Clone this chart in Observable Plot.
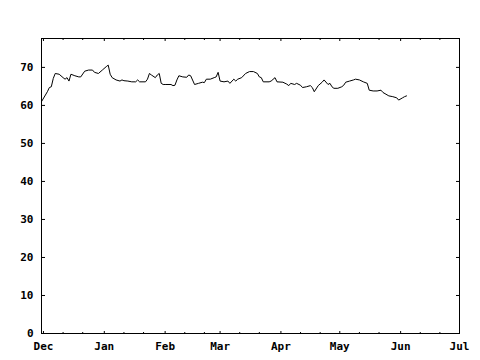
<!DOCTYPE html>
<html><head><meta charset="utf-8">
<script src="https://cdn.jsdelivr.net/npm/d3@7"></script>
<script src="https://cdn.jsdelivr.net/npm/@observablehq/plot@0.6"></script>
<style>html,body{margin:0;padding:0;background:#fff} svg{display:block}</style>
</head><body><div id="chart"></div>
<script>
const dates = [
"2002-11-30","2002-12-03","2002-12-04","2002-12-05","2002-12-06","2002-12-07","2002-12-09","2002-12-11","2002-12-12","2002-12-13",
"2002-12-14","2002-12-15","2002-12-17","2002-12-19","2002-12-20","2002-12-22","2002-12-24","2002-12-26","2002-12-27","2002-12-29",
"2002-12-31","2003-01-02","2003-01-03","2003-01-04","2003-01-05","2003-01-07","2003-01-09","2003-01-10","2003-01-11","2003-01-13",
"2003-01-15","2003-01-17","2003-01-18","2003-01-19","2003-01-22","2003-01-23","2003-01-24","2003-01-25","2003-01-27","2003-01-28",
"2003-01-29","2003-01-30","2003-01-31","2003-02-01","2003-02-04","2003-02-05","2003-02-06","2003-02-07","2003-02-08","2003-02-10",
"2003-02-12","2003-02-13","2003-02-14","2003-02-16","2003-02-18","2003-02-20","2003-02-21","2003-02-22","2003-02-24","2003-02-26",
"2003-02-27","2003-02-28","2003-03-01","2003-03-03","2003-03-05","2003-03-06","2003-03-08","2003-03-09","2003-03-10","2003-03-12",
"2003-03-14","2003-03-16","2003-03-18","2003-03-20","2003-03-21","2003-03-22","2003-03-23","2003-03-26","2003-03-27","2003-03-29",
"2003-03-30","2003-04-02","2003-04-04","2003-04-05","2003-04-06","2003-04-08","2003-04-09","2003-04-11","2003-04-12","2003-04-14",
"2003-04-16","2003-04-17","2003-04-18","2003-04-20","2003-04-22","2003-04-23","2003-04-25","2003-04-26","2003-04-27","2003-04-28",
"2003-04-30","2003-05-02","2003-05-03","2003-05-04","2003-05-06","2003-05-08","2003-05-09","2003-05-11","2003-05-13","2003-05-15",
"2003-05-16","2003-05-18","2003-05-20","2003-05-22","2003-05-23","2003-05-26","2003-05-28","2003-05-30","2003-05-31","2003-06-02",
"2003-06-03","2003-06-04"
];
const values = [
61.0,63.6,64.7,64.9,67.1,68.4,68.2,67.3,66.9,67.3,
66.4,68.2,67.8,67.5,67.5,69.0,69.3,69.3,68.7,68.4,
69.3,70.2,70.6,68.2,67.3,66.7,66.4,66.7,66.5,66.4,
66.2,66.2,66.7,66.2,66.2,66.9,68.4,68.0,67.3,68.0,
68.4,65.8,65.5,65.5,65.5,65.2,65.3,66.7,67.8,67.5,
67.4,68.0,67.8,65.5,65.8,66.1,66.0,66.9,66.9,67.3,
67.5,68.7,66.4,66.2,66.4,65.8,66.9,66.4,66.9,67.3,
68.4,68.9,68.9,68.4,67.5,67.3,66.2,66.2,66.4,67.3,
66.2,66.1,65.6,65.2,65.8,65.5,65.8,65.3,64.7,64.9,
65.2,64.7,63.6,65.2,66.1,66.7,65.5,65.8,64.9,64.5,
64.5,64.9,65.3,66.1,66.4,66.7,66.9,66.7,66.2,65.8,
64.0,63.8,63.8,64.0,63.4,62.5,62.3,62.0,61.4,62.0,
62.3,62.5
];
const monthTicks = ["2002-12-01","2003-01-01","2003-02-01","2003-03-01","2003-04-01","2003-05-01","2003-06-01","2003-07-01"];
const minorTicks = ["2002-12-11","2002-12-21","2003-01-11","2003-01-21","2003-02-11","2003-02-21","2003-03-11","2003-03-21",
  "2003-04-11","2003-04-21","2003-05-11","2003-05-21","2003-06-11","2003-06-21"];
const yTicks = [0,10,20,30,40,50,60,70];
const xDomain = ["2002-11-30","2003-07-01"];
const yDomain = [0, 77.6];

const parse = d3.utcParse("%Y-%m-%d");
const data = dates.map((d, i) => ({date: parse(d), value: values[i]}));
const major = monthTicks.map(parse);
const minor = minorTicks.map(parse);

const chart = Plot.plot({
  width: 480, height: 360,
  marginLeft: 41, marginRight: 21, marginTop: 38, marginBottom: 27,
  style: {fontFamily: "'DejaVu Sans Mono', monospace", fontSize: "11px", fontWeight: "bold", background: "#fff", color: "#000"},
  x: {type: "utc", domain: xDomain.map(parse), label: null},
  y: {domain: yDomain, label: null},
  marks: [
    Plot.axisX(major, {tickSize: 0, tickPadding: 9, tickFormat: d3.utcFormat("%b"), label: null}),
    Plot.axisY(yTicks, {tickSize: 0, tickPadding: 8, label: null}),
    Plot.axisX(major, {anchor: "top", frameAnchor: "bottom", tickSize: 3, fill: "none", label: null}),
    Plot.axisX(minor, {anchor: "top", frameAnchor: "bottom", tickSize: 2, fill: "none", label: null}),
    Plot.axisX(major, {anchor: "bottom", frameAnchor: "top", tickSize: 3, fill: "none", label: null}),
    Plot.axisX(minor, {anchor: "bottom", frameAnchor: "top", tickSize: 2, fill: "none", label: null}),
    Plot.axisY(yTicks, {anchor: "right", frameAnchor: "left", tickSize: 3, fill: "none", label: null}),
    Plot.axisY(yTicks, {anchor: "left", frameAnchor: "right", tickSize: 3, fill: "none", label: null}),
    Plot.frame({stroke: "#000", strokeWidth: 1}),
    Plot.line(data, {x: "date", y: "value", stroke: "#000", strokeWidth: 1})
  ]
});
document.getElementById("chart").append(chart);
</script>
</body></html>
